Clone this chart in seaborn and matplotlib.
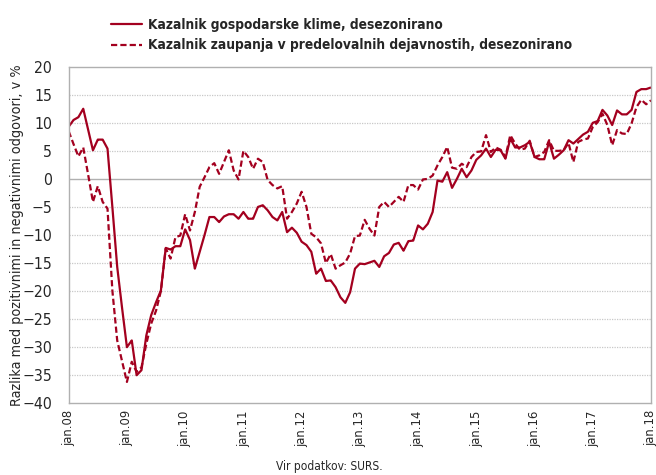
import numpy as np
import pandas as pd
import matplotlib
matplotlib.use("Agg")
import matplotlib.pyplot as plt
import seaborn as sns
from matplotlib import font_manager
from matplotlib.lines import Line2D

# monthly values jan.08 .. jan.18 (121 months)
klima = [
    9.3, 10.5, 11.0, 12.5, 8.8, 5.1, 7.0, 7.0, 5.4, -5.0, -15.7, -23.0,
    -30.0, -28.8, -35.0, -34.1, -27.9, -24.3, -22.0, -19.9, -12.3, -12.6, -12.0, -12.0,
    -9.0, -10.9, -16.0, -13.0, -10.0, -6.8, -6.8, -7.7, -6.7, -6.3, -6.3, -7.1,
    -5.9, -7.1, -7.1, -5.0, -4.7, -5.6, -6.8, -7.4, -5.9, -9.5, -8.7, -9.6,
    -11.2, -11.8, -13.0, -16.9, -16.0, -18.2, -18.1, -19.3, -21.1, -22.1, -20.2, -16.0,
    -15.1, -15.2, -14.9, -14.6, -15.7, -13.8, -13.2, -11.7, -11.4, -12.8, -11.1, -11.0,
    -8.3, -9.0, -8.0, -5.9, -0.3, -0.5, 1.2, -1.6, 0.0, 1.8, 0.3, 1.5,
    3.4, 4.2, 5.4, 3.9, 5.2, 5.1, 3.6, 7.2, 5.6, 5.6, 6.0, 6.6,
    3.9, 3.5, 3.5, 6.6, 3.6, 4.3, 5.1, 6.9, 6.3, 7.1, 7.9, 8.4,
    10.0, 10.3, 12.3, 11.3, 9.6, 12.2, 11.5, 11.5, 12.3, 15.5, 16.0, 16.0,
    16.3,
]
predelovalne = [
    8.5, 6.2, 4.0, 5.6, 0.8, -4.1, -1.3, -4.1, -5.3, -19.9, -28.8, -32.5,
    -36.2, -32.6, -34.4, -33.6, -29.4, -25.8, -23.5, -20.0, -12.4, -14.2, -10.4, -10.1,
    -6.3, -9.2, -5.9, -1.4, 0.3, 2.1, 2.8, 0.9, 3.0, 5.1, 1.5, -0.1,
    5.0, 3.9, 1.8, 3.6, 3.0, -0.2, -1.1, -1.7, -1.3, -7.1, -5.9, -4.4,
    -2.3, -5.0, -9.8, -10.4, -11.5, -15.0, -13.4, -16.0, -15.4, -14.9, -13.3, -10.2,
    -10.1, -7.3, -8.9, -10.1, -5.0, -4.1, -5.0, -4.1, -3.2, -4.1, -1.1, -1.1,
    -1.9, -0.1, 0.0, 0.6, 2.4, 3.9, 5.7, 2.0, 1.8, 2.7, 2.1, 3.9,
    4.8, 4.9, 7.8, 4.8, 5.6, 5.2, 3.9, 7.8, 6.3, 5.2, 5.4, 6.8,
    3.9, 4.2, 4.8, 6.9, 5.0, 5.0, 5.1, 6.4, 3.0, 6.6, 7.0, 7.2,
    9.25, 10.1, 11.6, 9.6, 6.0, 8.7, 8.1, 8.0, 9.9, 12.8, 14.1, 13.3,
    14.0,
]
tick_labels = ["jan.08", "jan.09", "jan.10", "jan.11", "jan.12", "jan.13",
               "jan.14", "jan.15", "jan.16", "jan.17", "jan.18"]
series_names = ["Kazalnik gospodarske klime, desezonirano",
                "Kazalnik zaupanja v predelovalnih dejavnostih, desezonirano"]

months = np.arange(len(klima))
df = pd.DataFrame({
    "mesec": np.concatenate([months, months]),
    "vrednost": klima + predelovalne,
    "serija": [series_names[0]] * len(klima) + [series_names[1]] * len(predelovalne),
})

sns.set_style("white")
fonts = font_manager.fontManager.ttflist
narrow = any(f.name == "DejaVu Sans" and f.stretch == "condensed" for f in fonts)
plt.rcParams["font.family"] = ["DejaVu Sans"]
if narrow:
    plt.rcParams["font.stretch"] = "condensed"
k = 1.1 if narrow else 1.0  # condensed glyphs are narrower, so a bit larger

red = "#A3001F"
fig = plt.figure(figsize=(6.56, 4.75), dpi=100)
ax = fig.add_axes([0.1047, 0.151, 0.8877, 0.7086])

sns.lineplot(data=df, x="mesec", y="vrednost", hue="serija", style="serija",
             palette=[red, red], dashes=[(1, 0), (2.8, 1.4)], linewidth=1.6,
             ax=ax, legend=False)

ax.set_xlim(0, 120)
ax.set_ylim(-40, 20)
ax.set_yticks(np.arange(-40, 21, 5))
ax.set_xticks(np.arange(0, 121, 12))
ax.set_xticklabels(tick_labels, rotation=90, fontsize=8.4 * k)
ax.tick_params(axis="y", labelsize=10.3 * k, length=0, pad=12)
ax.tick_params(axis="x", length=0, pad=5)
ax.set_xlabel("")
ax.set_ylabel("Razlika med pozitivnimi in negativnimi odgovori, v %",
              fontsize=9.3 * k)
ax.yaxis.set_label_coords(-0.077, 0.5)

for v in np.arange(-35, 20, 5):
    if v == 0:
        ax.axhline(0, color="#b0b0b0", linewidth=1.0, zorder=0)
    else:
        ax.axhline(v, color="#c8c8c8", linewidth=0.9, linestyle=(0, (1, 1)), zorder=0)
for s in ax.spines.values():
    s.set_color("#b0b0b0")
    s.set_linewidth(1.0)

handles = [Line2D([], [], color=red, linewidth=1.6),
           Line2D([], [], color=red, linewidth=1.6, dashes=(2.8, 1.4))]
fig.legend(handles, series_names, loc="upper left", bbox_to_anchor=(0.169, 0.963),
           frameon=False, prop={"weight": "bold", "size": 9 * k},
           handlelength=2.5 / k, handletextpad=0.4, labelspacing=0.5,
           borderpad=0, borderaxespad=0)

fig.text(0.502, 0.017, "Vir podatkov: SURS.", ha="center", va="center", fontsize=7.8 * k)

fig.savefig("out.png", dpi=100)
